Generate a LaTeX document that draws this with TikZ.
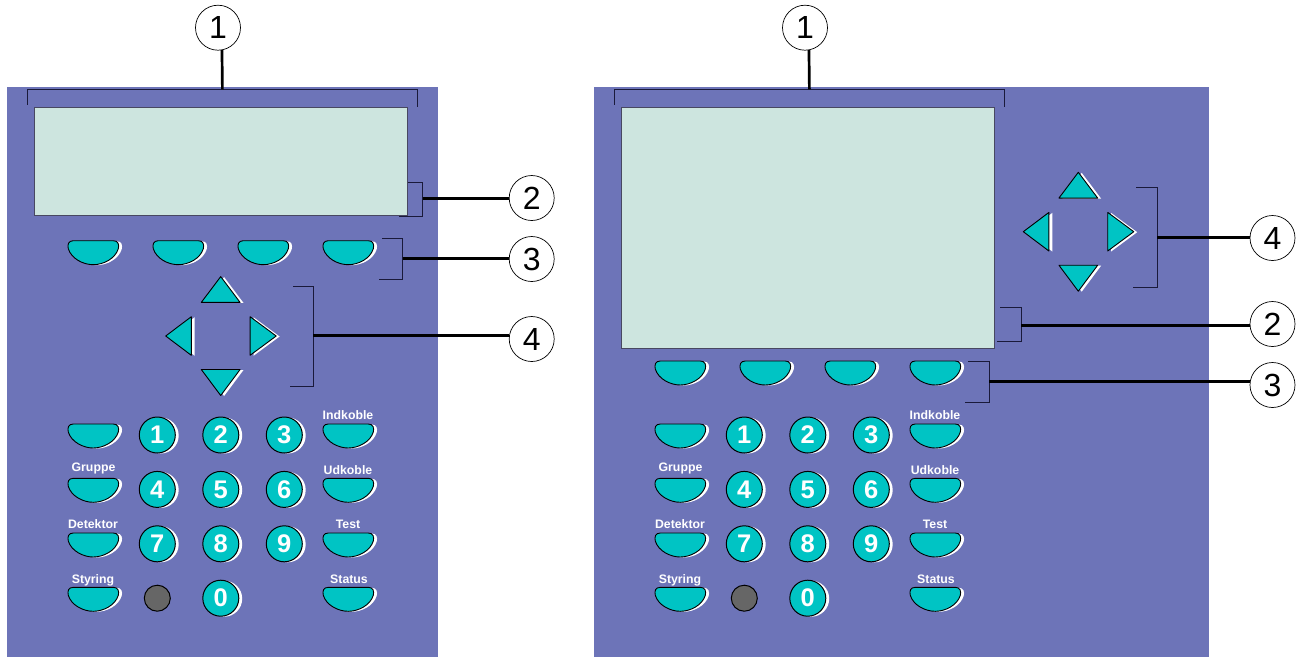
\documentclass[tikz,border=0pt]{standalone}
\usepackage{fontspec}
\setmainfont{Liberation Sans}
\usetikzlibrary{positioning, shadows}

\definecolor{panelblue}{HTML}{6D74B8}
\definecolor{keyteal}{HTML}{00C4C4}
\definecolor{lcdgreen}{HTML}{CDE5DF}
\definecolor{darkdot}{HTML}{666666}
\definecolor{bracketink}{HTML}{1A1A3A}

\tikzset{
    keyshadow/.style={drop shadow={shadow xshift=3.4pt, shadow yshift=-0.5pt, opacity=1, fill=white}},
    panel/.style={fill=panelblue, draw=none},
    lcd/.style={fill=lcdgreen, draw=bracketink!80, line width=1pt},
    numkey/.style={circle, fill=keyteal, draw=black, line width=1pt, minimum size=36pt, inner sep=0pt,
        keyshadow, text=white, font=\fontsize{25.5}{26}\selectfont\bfseries},
    keylabel/.style={text=white, inner sep=0pt, font=\fontsize{12.3}{13}\selectfont\bfseries},
    arrowkey/.style={fill=keyteal, draw=black, line width=0.9pt, line join=round, keyshadow},
    callout/.style={circle, fill=white, draw=black, line width=0.7pt, minimum size=45pt, inner sep=0pt,
        font=\fontsize{32}{32}\selectfont},
    bracket/.style={draw=bracketink, line width=1pt},
    leader/.style={draw=black, line width=2.7pt},
    softkey/.pic={
        \path[arrowkey] (-20,0) -- (20,0) .. controls (25,0) and (26,4) .. (25,8)
            .. controls (22,18) and (10,24) .. (0,24) .. controls (-10,24) and (-22,18) .. (-25,8)
            .. controls (-26,4) and (-25,0) .. (-20,0) -- cycle;
    }
}

% lower keys, the same on both panels
\newcommand{\keypad}[2]{
    \begin{scope}[xshift=#2pt, node distance=54.4pt]
        \pic at (93.3,424) {softkey};
        \pic at (93.3,478.3) {softkey};
        \pic at (93.3,533) {softkey};
        \pic at (93.3,587.3) {softkey};
        \pic at (348.3,424) {softkey};
        \pic at (348.3,478.3) {softkey};
        \pic at (348.3,533) {softkey};
        \pic at (348.3,587.3) {softkey};

        \node[keylabel] (#1gruppe) at (93.5,468) {Gruppe};
        \node[keylabel] (#1detektor) at (93,524.5) {Detektor};
        \node[keylabel] (#1styring) at (93,580) {Styring};
        \node[keylabel] (#1indkoble) at (348,415.5) {Indkoble};
        \node[keylabel] (#1udkoble) at (348,470.5) {Udkoble};
        \node[keylabel] (#1test) at (348,524.5) {Test};
        \node[keylabel] (#1status) at (349,579.5) {Status};

        \node[numkey] (#1one) at (157.3,435) {1};
        \node[numkey] (#1two) [right of = #1one, node distance=63.5pt] {2};
        \node[numkey] (#1three) [right of = #1two, node distance=63.5pt] {3};
        \node[numkey] (#1four) [below of = #1one] {4};
        \node[numkey] (#1five) [below of = #1two] {5};
        \node[numkey] (#1six) [below of = #1three] {6};
        \node[numkey] (#1seven) [below of = #1four] {7};
        \node[numkey] (#1eight) [below of = #1five] {8};
        \node[numkey] (#1nine) [below of = #1six] {9};
        \node[numkey] (#1zero) [below of = #1eight] {0};
        \node[circle, fill=darkdot, draw=black, line width=1pt, minimum size=26pt, inner sep=0pt] (#1dot) [below of = #1seven] {};
    \end{scope}
}

% four softkeys in a row: x shift, top edge
\newcommand{\softrow}[2]{
    \begin{scope}[xshift=#1pt]
        \pic at (93.3,#2) {softkey};
        \pic at (178.3,#2) {softkey};
        \pic at (263.3,#2) {softkey};
        \pic at (348.3,#2) {softkey};
    \end{scope}
}

% cross of arrows round a centre
\newcommand{\arrowcross}[2]{
    \begin{scope}[shift={(#1,#2)}]
        \path[arrowkey] (0,-59.4) -- (19.4,-33.6) -- (-19.4,-33.6) -- cycle;
        \path[arrowkey] (0,59.5) -- (19.4,33.5) -- (-19.4,33.5) -- cycle;
        \path[arrowkey] (-55,0) -- (-29.4,-19.3) -- (-29.4,19.3) -- cycle;
        \path[arrowkey] (55.5,0) -- (29.4,-19.3) -- (29.4,19.3) -- cycle;
    \end{scope}
}

\begin{document}
\begin{tikzpicture}[x=1pt, y=-1pt]
    \useasboundingbox (0,0) rectangle (1301,657);

    \path[panel] (7,87) rectangle (438,657);
    \path[panel] (594,87) rectangle (1209,657);

    \draw[lcd] (34,107) rectangle (407.5,215);
    \draw[lcd] (621,107) rectangle (994,348);

    \softrow{0}{240.7}
    \softrow{587}{361}
    \arrowcross{220.7}{336}
    \arrowcross{1078.3}{231.7}
    \keypad{a}{0}
    \keypad{b}{587}

    % callouts, left panel
    \node[callout] (aone) at (218,27.7) {1};
    \node[callout] (atwo) at (531.7,198) {2};
    \node[callout] (athree) at (531.7,259) {3};
    \node[callout] (afour) at (531.7,339) {4};

    \coordinate (abr1) at (222.4,89.3);
    \coordinate (abr2) at (422.7,198.3);
    \coordinate (abr3) at (402.7,258.6);
    \coordinate (abr4) at (313.3,335.6);

    \draw[bracket] (27.4,104.7) -- (27.4,89.3) -- (417.4,89.3) -- (417.4,106.7);
    \draw[bracket] (407.7,182) -- (422.7,182) -- (422.7,216) -- (399.3,216);
    \draw[bracket] (382,238.3) -- (402.7,238.3) -- (402.7,279) -- (379.3,279);
    \draw[bracket] (293,286) -- (313.3,286) -- (313.3,386) -- (290,386);

    \draw[leader] (aone.-80) -- (abr1);
    \draw[leader] (abr2) -- (abr2 -| atwo.west);
    \draw[leader] (abr3) -- (abr3 -| athree.west);
    \draw[leader] (abr4) -- (abr4 -| afour.west);

    % callouts, right panel
    \node[callout] (bone) at (805,27.7) {1};
    \node[callout] (btwo) at (1272.5,324) {2};
    \node[callout] (bthree) at (1272.5,385) {3};
    \node[callout] (bfour) at (1272.5,238) {4};

    \coordinate (bbr1) at (809.4,89.3);
    \coordinate (bbr2) at (1021.3,325.3);
    \coordinate (bbr3) at (989.3,381.3);
    \coordinate (bbr4) at (1157.3,237.3);

    \draw[bracket] (614.4,104.7) -- (614.4,89.3) -- (1004.4,89.3) -- (1004.4,106.7);
    \draw[bracket] (1000,307.3) -- (1021.3,307.3) -- (1021.3,341.7) -- (996.7,341.7);
    \draw[bracket] (968,361.3) -- (989.3,361.3) -- (989.3,402) -- (965,402);
    \draw[bracket] (1136,187.7) -- (1157.3,187.7) -- (1157.3,287.3) -- (1132.7,287.3);

    \draw[leader] (bone.-80) -- (bbr1);
    \draw[leader] (bbr2) -- (bbr2 -| btwo.west);
    \draw[leader] (bbr3) -- (bbr3 -| bthree.west);
    \draw[leader] (bbr4) -- (bbr4 -| bfour.west);
\end{tikzpicture}
\end{document}
